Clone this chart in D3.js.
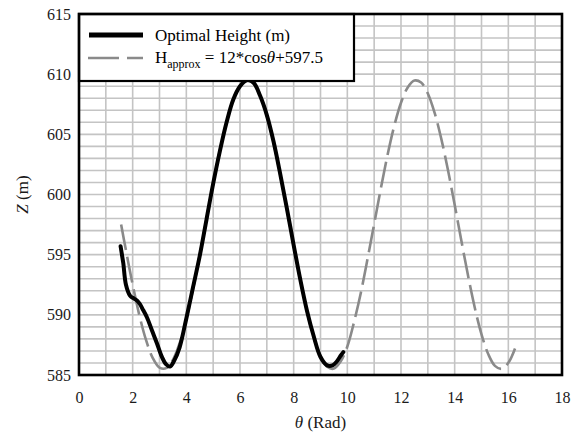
<!DOCTYPE html>
<html><head><meta charset="utf-8">
<script src="https://cdn.jsdelivr.net/npm/d3@7"></script>
<style>body{margin:0;background:#fff}svg{display:block}</style>
</head><body><svg id="c" width="587" height="434"></svg>
<script>
// Optimal height (black solid)
const optTheta = [1.55,1.60,1.65,1.75,1.90,2.01,2.16,2.27,2.39,2.53,2.72,2.91,3.09,3.24,3.39,3.55,3.75,4.0,4.25,4.5,4.75,5.0,5.25,5.5,5.75,6.0,6.25,6.5,6.75,7.0,7.25,7.5,7.75,8.0,8.25,8.5,8.75,9.0,9.25,9.45,9.6,9.75,9.85];
const optZ     = [595.7,595.0,594.3,592.5,591.6,591.4,591.2,590.9,590.4,589.8,588.7,587.6,586.5,585.9,585.7,586.2,587.3,589.7,592.3,594.9,597.9,600.9,603.6,606.0,607.9,609.0,609.5,609.3,608.2,606.6,604.4,601.7,598.8,595.8,592.9,590.3,588.2,586.5,585.8,585.8,586.1,586.6,586.9];
// H approx (gray dashed)
const apxTheta = [1.57,1.75,2.0,2.25,2.5,2.75,3.0,3.25,3.5,3.75,4.0,4.25,4.5,4.75,5.0,5.25,5.5,5.75,6.0,6.25,6.5,6.75,7.0,7.25,7.5,7.75,8.0,8.25,8.5,8.75,9.0,9.25,9.5,9.75,10.0,10.25,10.5,10.75,11.0,11.25,11.5,11.75,12.0,12.25,12.5,12.75,13.0,13.25,13.5,13.75,14.0,14.25,14.5,14.75,15.0,15.25,15.5,15.75,16.0,16.25];
const apxZ     = [597.51,595.36,592.51,589.96,587.89,586.41,585.62,585.57,586.26,587.65,589.66,592.15,594.97,597.95,600.90,603.65,606.00,607.83,609.02,609.50,609.22,608.22,606.55,604.31,601.66,598.74,595.75,592.88,590.28,588.11,586.57,585.68,585.53,586.12,587.37,589.40,591.79,594.61,597.55,600.52,603.30,605.72,607.63,608.90,609.47,609.30,608.39,606.80,604.64,602.03,599.14,596.15,593.24,590.59,588.38,586.74,585.76,585.51,586.01,587.20];
const xTicks = [0,2,4,6,8,10,12,14,16,18];
const yTicks = [585,590,595,600,605,610,615];
const xGrid = d3.range(0,19,1);
const yGrid = d3.range(585,616,1);

const L = 79, R = 562, T = 14, B = 375;
const FONT = "'Liberation Serif','Times New Roman',serif";
const svg = d3.select('#c');
const x = d3.scaleLinear().domain([0,18]).range([L,R]);
const y = d3.scaleLinear().domain([585,615]).range([B,T]);

// grid
svg.append('g').selectAll('line').data(xGrid).join('line')
  .attr('x1',d=>x(d)).attr('x2',d=>x(d)).attr('y1',T).attr('y2',B)
  .attr('stroke','#c4c4c4').attr('stroke-width',1.6);
svg.append('g').selectAll('line').data(yGrid).join('line')
  .attr('y1',d=>y(d)).attr('y2',d=>y(d)).attr('x1',L).attr('x2',R)
  .attr('stroke','#c4c4c4').attr('stroke-width',1.6);

// axes labels
const xa = svg.append('g').attr('transform',`translate(0,${B})`)
  .call(d3.axisBottom(x).tickValues(xTicks).tickSize(0).tickPadding(17).tickFormat(d3.format('d')));
const ya = svg.append('g').attr('transform',`translate(${L},0)`)
  .call(d3.axisLeft(y).tickValues(yTicks).tickSize(0).tickPadding(8).tickFormat(d3.format('d')));
[xa,ya].forEach(a=>{a.select('.domain').remove();
  a.selectAll('text').attr('font-family',FONT).attr('font-size',16).attr('fill','#1a1a1a');});

// lines
const lineGen = d3.line().x(d=>x(d[0])).y(d=>y(d[1])).curve(d3.curveCatmullRom);
svg.append('path').datum(d3.zip(apxTheta,apxZ)).attr('d',lineGen)
  .attr('fill','none').attr('stroke','#8a8a8a').attr('stroke-width',2.6)
  .attr('stroke-dasharray','26,7');
svg.append('path').datum(d3.zip(optTheta,optZ)).attr('d',lineGen)
  .attr('fill','none').attr('stroke','#000').attr('stroke-width',4)
  .attr('stroke-linejoin','round').attr('stroke-linecap','round');

// legend
svg.append('rect').attr('x',L).attr('y',T).attr('width',275).attr('height',67)
  .attr('fill','#fff').attr('stroke','#000').attr('stroke-width',2.2);
svg.append('line').attr('x1',89).attr('x2',143).attr('y1',35).attr('y2',35)
  .attr('stroke','#000').attr('stroke-width',5);
svg.append('line').attr('x1',88).attr('x2',143).attr('y1',58).attr('y2',58)
  .attr('stroke','#8a8a8a').attr('stroke-width',2.6).attr('stroke-dasharray','31,8');
svg.append('text').attr('x',155).attr('y',41).attr('font-family',FONT).attr('font-size',17)
  .attr('fill','#000').text('Optimal Height (m)');
const t2 = svg.append('text').attr('x',155).attr('y',63).attr('font-family',FONT).attr('font-size',17).attr('fill','#000');
t2.append('tspan').text('H');
t2.append('tspan').attr('font-size',12).attr('dy',5).text('approx');
t2.append('tspan').attr('dy',-5).text(' = 12*cos');
t2.append('tspan').attr('font-style','italic').text('θ');
t2.append('tspan').text('+597.5');

// frame
svg.append('rect').attr('x',L).attr('y',T).attr('width',R-L).attr('height',B-T)
  .attr('fill','none').attr('stroke','#000').attr('stroke-width',2.6);

// axis titles
const xt = svg.append('text').attr('x',(L+R)/2).attr('y',428).attr('text-anchor','middle')
  .attr('font-family',FONT).attr('font-size',17).attr('fill','#1a1a1a');
xt.append('tspan').attr('font-style','italic').text('θ');
xt.append('tspan').text(' (Rad)');
const yt = svg.append('text').attr('transform',`translate(28,${(T+B)/2}) rotate(-90)`)
  .attr('text-anchor','middle').attr('font-family',FONT).attr('font-size',17).attr('fill','#1a1a1a');
yt.append('tspan').attr('font-style','italic').text('Z');
yt.append('tspan').text(' (m)');
</script></body></html>
